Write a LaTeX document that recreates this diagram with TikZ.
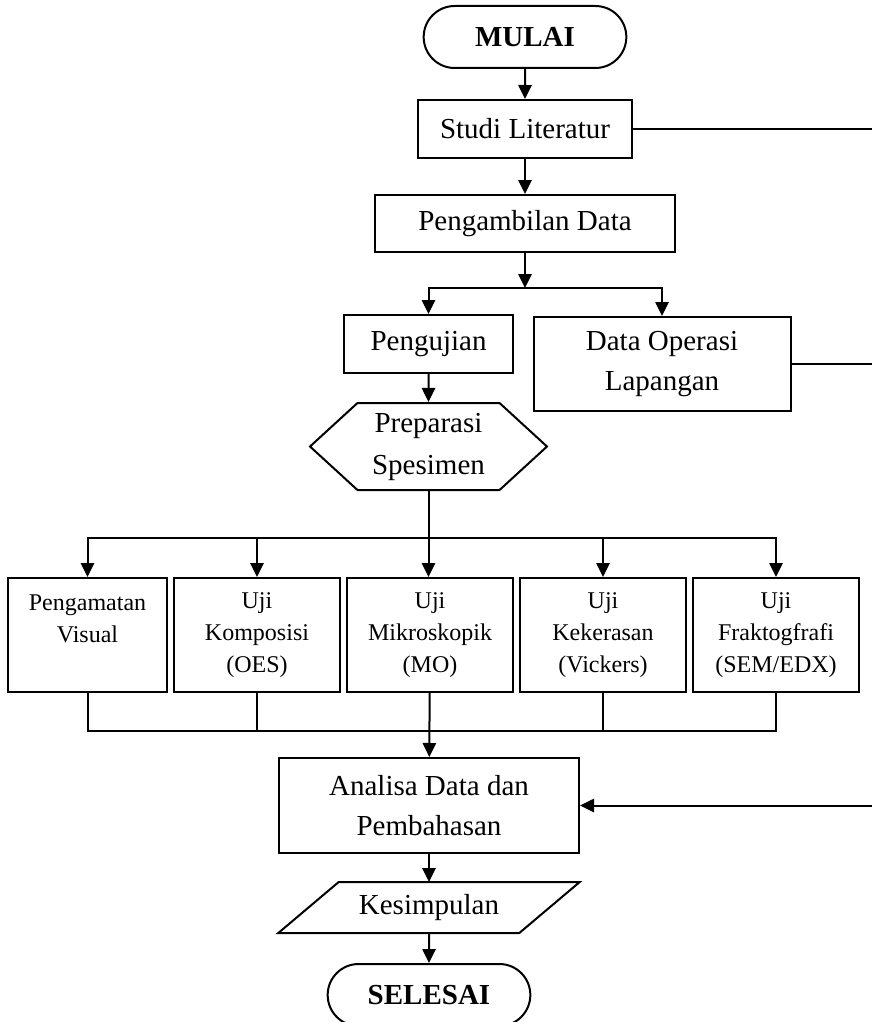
\documentclass[tikz,border=0pt]{standalone}
\usepackage{fontspec}
\setmainfont{Liberation Serif}
\usetikzlibrary{positioning,shapes.misc,shapes.symbols,arrows.meta}

\begin{document}
\begin{tikzpicture}[
  x=0.5pt, y=-0.5pt,
  line width=1pt,
  box/.style={draw,rectangle,align=center,inner sep=2pt,font=\fontsize{14.5}{20}\selectfont},
  term/.style={draw,rounded rectangle,minimum width=108pt,minimum height=31pt,font=\fontsize{14.5}{20}\selectfont\bfseries},
  test/.style={draw,rectangle,align=center,minimum width=83pt,minimum height=57pt,font=\fontsize{12}{16}\selectfont},
  arr/.style={-{Triangle[length=7pt,width=6.6pt]}}
]
\useasboundingbox (0,0) rectangle (872,1022);
\coordinate (tepi) at (872,0);

% alur utama
\node[term] (mulai) at (525,37) {MULAI};
\node[box,minimum width=107pt,minimum height=29pt,below=15pt of mulai] (studi) {Studi Literatur};
\node[box,minimum width=150pt,minimum height=28.5pt,below=17.5pt of studi] (ambil) {Pengambilan Data};
\coordinate[below=17.5pt of ambil] (cab);
\node[box,minimum width=84.5pt,minimum height=29pt] (uji) at (428.5,344) {Pengujian};
\node[box,minimum width=128.5pt,minimum height=47pt] (lap) at (662,364) {Data Operasi\\Lapangan};
\node[draw,signal,signal to=east and west,signal pointer angle=85,inner sep=0pt,
  minimum width=118.5pt,minimum height=43.5pt,align=center,
  font=\fontsize{14.5}{21}\selectfont] (prep) at (428.5,446.5) {Preparasi\\Spesimen};
\coordinate[below=23.5pt of prep] (cab2);

% pengujian
\node[test,minimum width=79.5pt,anchor=north] (vis) at (87.5,577) {Pengamatan\\Visual\\\mbox{}};
\node[test,right=2.5pt of vis] (kom) {Uji\\Komposisi\\(OES)};
\node[test,right=2.5pt of kom] (mik) {Uji\\Mikroskopik\\(MO)};
\node[test,right=2.5pt of mik] (ker) {Uji\\Kekerasan\\(Vickers)};
\node[test,right=2.5pt of ker] (frak) {Uji\\Fraktogfrafi\\(SEM/EDX)};
\coordinate[below=19pt of mik] (gab);

\node[box,minimum width=150pt,minimum height=47.5pt] (ana) at (429,805.5) {Analisa Data dan\\Pembahasan};
\node[box,draw=none,minimum width=119.5pt,minimum height=24.5pt] (kes) at (429,907.5) {Kesimpulan};
\draw ([xshift=15.1pt]kes.north west) -- ([xshift=15.1pt]kes.north east)
  -- ([xshift=-15.1pt]kes.south east) -- ([xshift=-15.1pt]kes.south west) -- cycle;
\node[term,below=15pt of kes] (selesai) {SELESAI};

% panah
\draw[arr] (mulai) -- (studi);
\draw[arr] (studi) -- (ambil);
\draw[arr] (ambil) -- (cab);
\draw[arr] (cab) -| (uji);
\draw[arr] (cab) -| (lap);
\draw[arr] (uji) -- (prep);
\draw[arr] (prep.south) -- (prep.south |- mik.north);
\draw[arr] (cab2) -| (vis);
\draw[arr] (cab2) -| (kom);
\draw[arr] (cab2) -| (ker);
\draw[arr] (cab2) -| (frak);
\draw (vis.south) |- (gab) -| (frak.south);
\draw (kom.south) -- (kom.south |- gab);
\draw (ker.south) -- (ker.south |- gab);
\draw[arr] (mik) -- (ana);
\draw[arr] (ana) -- (kes);
\draw[arr] (kes) -- (selesai);

% garis ke kanan
\draw (studi.east) -- (studi.east -| tepi);
\draw (lap.east) -- (lap.east -| tepi);
\draw[arr] (ana.east -| tepi) -- (ana.east);
\end{tikzpicture}
\end{document}
